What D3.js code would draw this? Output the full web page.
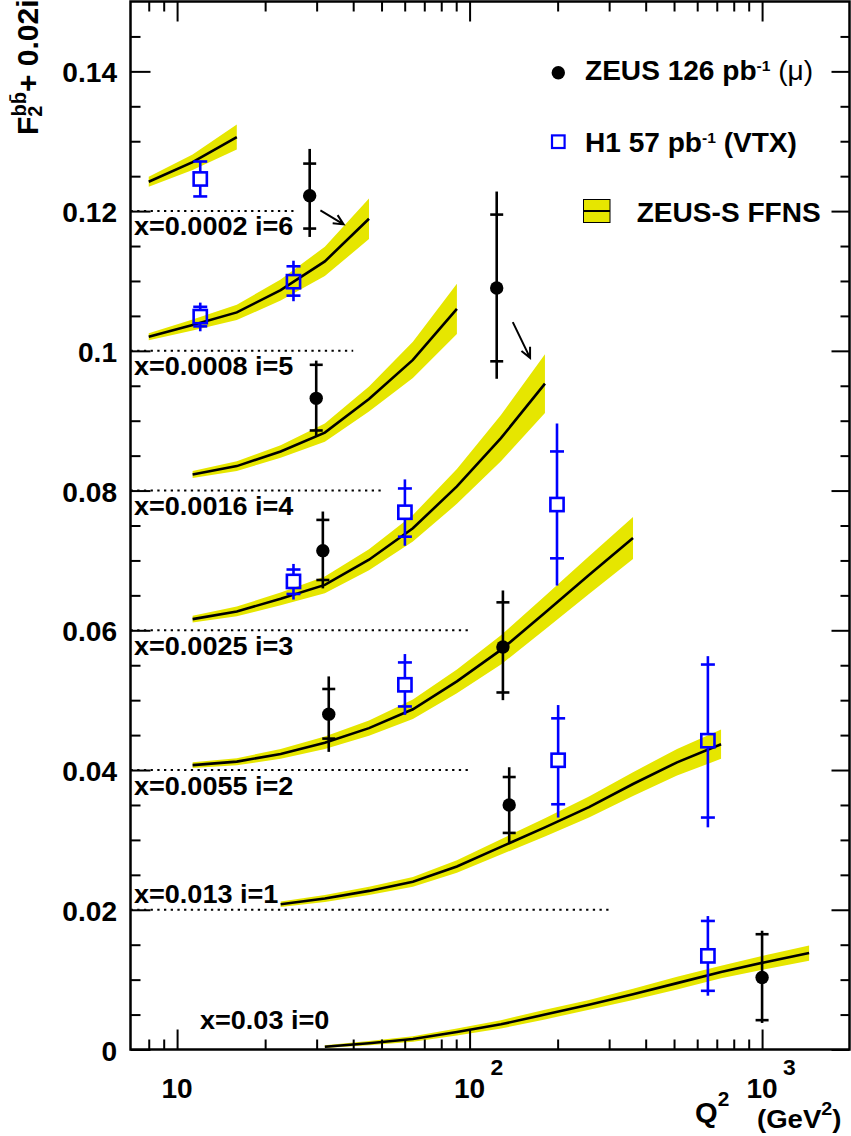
<!DOCTYPE html>
<html>
<head>
<meta charset="utf-8">
<script src="https://cdn.jsdelivr.net/npm/d3@7"></script>
<style>
    body { margin: 0; background: #fff; }
    svg text { font-family: "Liberation Sans", Arial, Helvetica, sans-serif; font-weight: bold; fill: #000; }
</style>
</head>
<body>
<script>
const width = 851;
const height = 1136;

// Q2 grid used by the ZEUS-S FFNS predictions
const qGrid = [8, 11.3, 16, 22.6, 32, 45.3, 64, 90.5, 128, 181, 256, 362, 512, 724, 1024, 1448];
// first grid point of each curve, i = 0..6
const fitStart = [4, 3, 1, 1, 1, 0, 0];
// prediction (offset included) and half width of the band, i = 0..6
const fitF2 = [
    [0.0004, 0.0009, 0.0015, 0.0025, 0.0036, 0.0050, 0.0064, 0.0079, 0.0095, 0.0111, 0.0125, 0.0138],
    [0.0208, 0.0216, 0.0227, 0.0240, 0.0262, 0.0290, 0.0318, 0.0347, 0.0380, 0.0411, 0.0437],
    [0.0407, 0.0412, 0.0423, 0.0439, 0.0460, 0.0487, 0.0527, 0.0572, 0.0625, 0.0679, 0.0732],
    [0.0616, 0.0627, 0.0645, 0.0665, 0.0701, 0.0746, 0.0806, 0.0875, 0.0953],
    [0.0823, 0.0835, 0.0856, 0.0883, 0.0931, 0.0987, 0.1060],
    [0.1020, 0.1037, 0.1055, 0.1087, 0.1128, 0.1189],
    [0.1242, 0.1270, 0.1306]
];
const fitErr = [
    [0.0002, 0.0003, 0.0004, 0.0005, 0.0006, 0.0007, 0.0007, 0.0008, 0.0009, 0.0009, 0.0010, 0.0011],
    [0.0004, 0.0005, 0.0006, 0.0007, 0.0009, 0.0011, 0.0013, 0.0015, 0.0017, 0.0019, 0.0021],
    [0.0004, 0.0005, 0.0007, 0.0009, 0.0011, 0.0014, 0.0017, 0.0021, 0.0024, 0.0027, 0.0030],
    [0.0005, 0.0007, 0.0009, 0.0012, 0.0015, 0.0019, 0.0025, 0.0033, 0.0042],
    [0.0005, 0.0007, 0.0009, 0.0013, 0.0018, 0.0026, 0.0036],
    [0.0005, 0.0008, 0.0011, 0.0015, 0.0021, 0.0029],
    [0.0007, 0.0011, 0.0018]
];

// ZEUS 126 pb-1 (mu)
const zeusQ2 = [28.4, 123.8, 29.9, 31.5, 33.0, 130, 136.6, 1000];
const zeusF2 = [0.1222, 0.1090, 0.0932, 0.0714, 0.0480, 0.0576, 0.0350, 0.0103];
const zeusStatHi = [0.1268, 0.1195, 0.0980, 0.0758, 0.0516, 0.0640, 0.0390, 0.0165];
const zeusStatLo = [0.1175, 0.0985, 0.0886, 0.0672, 0.0445, 0.0511, 0.0310, 0.0042];
const zeusTotHi = [0.1289, 0.1228, 0.0986, 0.0770, 0.0534, 0.0657, 0.0404, 0.0170];
const zeusTotLo = [0.1163, 0.0960, 0.0877, 0.0660, 0.0426, 0.0500, 0.0295, 0.0038];

// H1 57 pb-1 (VTX)
const h1Q2 = [12.0, 12.0, 25.0, 25.0, 60.1, 199, 60.1, 200.8, 652.7, 652.7];
const h1F2 = [0.1246, 0.1049, 0.1099, 0.0670, 0.0769, 0.0780, 0.0522, 0.0414, 0.0442, 0.0134];
const h1StatHi = [0.1271, 0.1063, 0.1121, 0.0687, 0.0803, 0.0856, 0.0554, 0.0474, 0.0551, 0.0184];
const h1StatLo = [0.1221, 0.1035, 0.1079, 0.0652, 0.0734, 0.0703, 0.0491, 0.0351, 0.0332, 0.0084];
const h1TotHi = [0.1271, 0.1069, 0.1129, 0.0695, 0.0816, 0.0896, 0.0566, 0.0493, 0.0563, 0.0191];
const h1TotLo = [0.1221, 0.1028, 0.1071, 0.0644, 0.0721, 0.0664, 0.0479, 0.0332, 0.0318, 0.0077];

// arrows from the two ZEUS points to their curve
const arrowQ2From = [30.9, 140.5];
const arrowF2From = [0.1201, 0.1041];
const arrowQ2To = [37.1, 161];
const arrowF2To = [0.1181, 0.0990];

// bin labels and the Q2 where each dotted zero line stops, i = 0..6
const binLabels = ["x=0.03 i=0", "x=0.013 i=1", "x=0.0055 i=2", "x=0.0025 i=3",
    "x=0.0016 i=4", "x=0.0008 i=5", "x=0.0002 i=6"];
const zeroLineEnd = [null, 300, 100, 100, 50, 40, 25];

// axes
const yTicks = [0, 0.02, 0.04, 0.06, 0.08, 0.1, 0.12, 0.14];
const yTickLabels = ["0", "0.02", "0.04", "0.06", "0.08", "0.1", "0.12", "0.14"];
const xTicks = [10, 100, 1000];
const xTickExp = ["", "2", "3"];
const xMinorTicks = [8, 9, 20, 30, 40, 50, 60, 70, 80, 90, 200, 300, 400, 500, 600, 700, 800, 900];

const frame = { left: 130.5, right: 849.5, top: 1.5, bottom: 1049.5 };
const SX = 1.04;
const yellow = "#e6e600";
const blue = "#0000ff";

function addText(g, px, py, anchor, size) {
    return g.append("text")
        .attr("transform", `translate(${px},${py}) scale(${SX},1)`)
        .attr("text-anchor", anchor)
        .attr("font-size", size);
}

function chart() {
    const svg = d3.select("body").append("svg")
        .attr("width", width)
        .attr("height", height);

    const x = d3.scaleLog().domain([6.93, 1990]).range([frame.left, frame.right]);
    const y = d3.scaleLinear().domain([0, 0.15]).range([frame.bottom, frame.top]);

    // dotted zero lines of each bin
    zeroLineEnd.forEach((q, i) => {
        if (!q) return;
        svg.append("line")
            .attr("x1", frame.left).attr("x2", x(q))
            .attr("y1", y(0.02 * i)).attr("y2", y(0.02 * i))
            .attr("stroke", "#000").attr("stroke-width", 2)
            .attr("stroke-dasharray", "2.3,4.4");
    });

    // prediction bands and central lines
    const area = d3.area().x(d => x(d.q)).y0(d => y(d.v - d.e)).y1(d => y(d.v + d.e));
    const line = d3.line().x(d => x(d.q)).y(d => y(d.v));
    fitF2.forEach((vals, i) => {
        const pts = vals.map((v, k) => ({ q: qGrid[fitStart[i] + k], v: v, e: fitErr[i][k] }));
        svg.append("path").attr("d", area(pts)).attr("fill", yellow);
        svg.append("path").attr("d", line(pts))
            .attr("fill", "none").attr("stroke", "#000").attr("stroke-width", 2.6);
    });

    // bin labels
    const labelPos = [[200, 1029], [134, 903], [134, 795], [134, 655], [134, 515], [134, 375], [134, 235]];
    binLabels.forEach((t, i) => {
        addText(svg, labelPos[i][0], labelPos[i][1], "start", 26).text(t);
    });

    // error bar with ticks at the statistical error, gap around the marker
    function errorBar(q, v, sHi, sLo, tHi, tLo, color, gap, capW) {
        const px = x(q);
        const g = svg.append("g").attr("stroke", color).attr("stroke-width", 2.6);
        g.append("line").attr("x1", px).attr("x2", px).attr("y1", y(tHi)).attr("y2", y(v) - gap);
        g.append("line").attr("x1", px).attr("x2", px).attr("y1", y(v) + gap).attr("y2", y(tLo));
        [sHi, sLo].forEach(s => {
            g.append("line").attr("x1", px - capW / 2).attr("x2", px + capW / 2)
                .attr("y1", y(s)).attr("y2", y(s));
        });
    }

    zeusQ2.forEach((q, k) => {
        errorBar(q, zeusF2[k], zeusStatHi[k], zeusStatLo[k], zeusTotHi[k], zeusTotLo[k], "#000", 0, 13);
        svg.append("circle").attr("cx", x(q)).attr("cy", y(zeusF2[k])).attr("r", 6.7).attr("fill", "#000");
    });

    h1Q2.forEach((q, k) => {
        errorBar(q, h1F2[k], h1StatHi[k], h1StatLo[k], h1TotHi[k], h1TotLo[k], blue, 6.8, 14);
        svg.append("rect")
            .attr("x", x(q) - 6.6).attr("y", y(h1F2[k]) - 6.6)
            .attr("width", 13.2).attr("height", 13.2)
            .attr("fill", "none").attr("stroke", blue).attr("stroke-width", 2.6);
    });

    // arrows
    arrowQ2From.forEach((q, k) => {
        const x1 = x(q), y1 = y(arrowF2From[k]);
        const x2 = x(arrowQ2To[k]), y2 = y(arrowF2To[k]);
        const a = Math.atan2(y2 - y1, x2 - x1);
        const h = 11;
        const path = `M${x1},${y1}L${x2},${y2}` +
            `M${x2 - h * Math.cos(a - 0.45)},${y2 - h * Math.sin(a - 0.45)}L${x2},${y2}` +
            `L${x2 - h * Math.cos(a + 0.45)},${y2 - h * Math.sin(a + 0.45)}`;
        svg.append("path").attr("d", path).attr("fill", "none")
            .attr("stroke", "#000").attr("stroke-width", 2);
    });

    // axes: ticks on all four sides, pointing inwards
    function ticks(axis, tx, ty) {
        svg.append("g")
            .attr("transform", `translate(${tx},${ty})`)
            .call(axis)
            .call(g => g.select(".domain").remove())
            .call(g => g.selectAll(".tick line").attr("stroke-width", 2));
    }
    const yMinor = d3.range(0.005, 0.15, 0.005).filter(v => Math.abs(v / 0.02 - Math.round(v / 0.02)) > 0.01);
    ticks(d3.axisBottom(x).tickValues(xTicks).tickSize(-20).tickFormat(""), 0, frame.bottom);
    ticks(d3.axisBottom(x).tickValues(xMinorTicks).tickSize(-10).tickFormat(""), 0, frame.bottom);
    ticks(d3.axisTop(x).tickValues(xTicks).tickSize(-20).tickFormat(""), 0, frame.top);
    ticks(d3.axisTop(x).tickValues(xMinorTicks).tickSize(-10).tickFormat(""), 0, frame.top);
    ticks(d3.axisLeft(y).tickValues(yTicks).tickSize(-20).tickFormat(""), frame.left, 0);
    ticks(d3.axisLeft(y).tickValues(yMinor).tickSize(-10).tickFormat(""), frame.left, 0);
    ticks(d3.axisRight(y).tickValues(yTicks).tickSize(-18).tickFormat(""), frame.right, 0);
    ticks(d3.axisRight(y).tickValues(yMinor).tickSize(-9).tickFormat(""), frame.right, 0);

    svg.append("rect")
        .attr("x", frame.left).attr("y", frame.top)
        .attr("width", frame.right - frame.left).attr("height", frame.bottom - frame.top)
        .attr("fill", "none").attr("stroke", "#000").attr("stroke-width", 2.5);

    // tick labels
    yTicks.forEach((v, k) => {
        addText(svg, 117, y(v) + 11, "end", 27).text(yTickLabels[k]);
    });
    xTicks.forEach((v, k) => {
        addText(svg, x(v), 1098, "middle", 27).text("10");
        if (xTickExp[k]) addText(svg, x(v) + 21, 1075, "start", 22).text(xTickExp[k]);
    });

    // axis titles
    const qt = addText(svg, 695, 1122, "start", 28);
    qt.append("tspan").text("Q");
    qt.append("tspan").attr("font-size", 20).attr("dy", -16).text("2");
    const gt = addText(svg, 757, 1128, "start", 26.5);
    gt.append("tspan").text("(GeV");
    gt.append("tspan").attr("font-size", 19).attr("dy", -13).text("2");
    gt.append("tspan").attr("dy", 13).text(")");

    const yt = svg.append("text")
        .attr("transform", "translate(38,135) rotate(-90)")
        .attr("font-size", 30);
    yt.append("tspan").text("F");
    yt.append("tspan").attr("font-size", 20).attr("dy", 4).text("2");
    yt.append("tspan").attr("font-size", 20).attr("dx", -11).attr("dy", -16).text("b\u0062\u0304");
    yt.append("tspan").attr("dy", 12).text("+ 0.02i");

    // legend
    svg.append("circle").attr("cx", 558.3).attr("cy", 72.7).attr("r", 6.7).attr("fill", "#000");
    const l1 = addText(svg, 585, 80, "start", 27);
    l1.append("tspan").text("ZEUS 126 pb");
    l1.append("tspan").attr("font-size", 15).attr("dy", -9).text("-1");
    l1.append("tspan").attr("dy", 9).attr("font-weight", "normal").text(" (\u03bc)");

    svg.append("rect").attr("x", 552).attr("y", 135.4).attr("width", 12.6).attr("height", 12.6)
        .attr("fill", "none").attr("stroke", blue).attr("stroke-width", 2.2);
    const l2 = addText(svg, 585, 152, "start", 27);
    l2.append("tspan").text("H1 57 pb");
    l2.append("tspan").attr("font-size", 15).attr("dy", -9).text("-1");
    l2.append("tspan").attr("dy", 9).text(" (VTX)");

    svg.append("rect").attr("x", 583.5).attr("y", 199.5).attr("width", 26.5).attr("height", 23)
        .attr("fill", yellow).attr("stroke", "#000").attr("stroke-width", 1);
    svg.append("line").attr("x1", 583.5).attr("x2", 610).attr("y1", 211).attr("y2", 211)
        .attr("stroke", "#000").attr("stroke-width", 2);
    addText(svg, 636.7, 221.7, "start", 27).text("ZEUS-S FFNS");
}

chart();
</script>
</body>
</html>
